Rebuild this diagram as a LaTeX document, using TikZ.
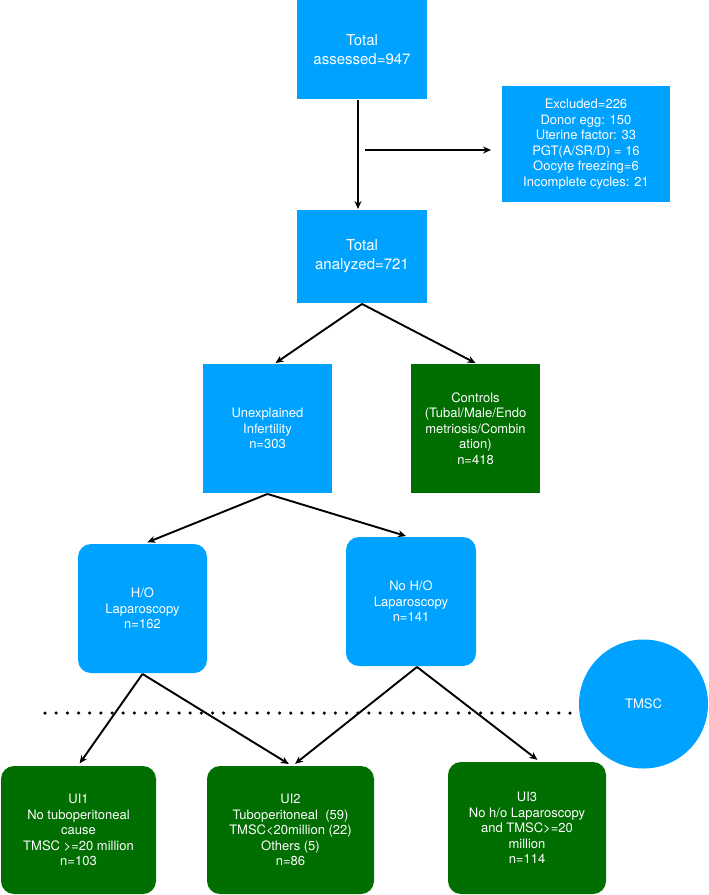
\documentclass[tikz,border=0pt]{standalone}
\usepackage{fontspec}
\setmainfont{TeX Gyre Heros}
\usepackage{xcolor}
\usepackage{tikz}
\usetikzlibrary{arrows.meta}
\definecolor{tmblue}{HTML}{00A2FF}
\definecolor{tmgreen}{HTML}{006E00}

\begin{document}
\begin{tikzpicture}[x=1pt,y=-1pt,>={Stealth[length=8pt,width=7pt]},line width=1.9pt,
bluebox/.style={rectangle,fill=tmblue,text=white,align=center,inner sep=0pt,font=\fontsize{13}{15.5}\selectfont},
greenbox/.style={bluebox,fill=tmgreen},
bigtext/.style={font=\fontsize{15}{19}\selectfont},
roundbox/.style={rounded corners=13pt}]
\useasboundingbox (0,0) rectangle (709,895);
\node[bluebox,bigtext,minimum width=130,minimum height=99](assessed) at (362,49.5){Total\\assessed=947};
\node[bluebox,minimum width=168,minimum height=116](excl) at (586,144){Excluded=226\\Donor egg: 150\\Uterine factor: 33\\PGT(A/SR/D) = 16\\Oocyte freezing=6\\Incomplete cycles: 21};
\node[bluebox,bigtext,minimum width=130,minimum height=93](analyzed) at (362,256.5){Total\\analyzed=721};
\node[bluebox,minimum width=129,minimum height=129](unexpl) at (267.5,428.5){Unexplained\\Infertility\\n=303};
\node[greenbox,minimum width=129,minimum height=129](controls) at (475.5,428.5){Controls\\(Tubal/Male/Endo\\metriosis/Combin\\ation)\\n=418};
\node[bluebox,roundbox,minimum width=129,minimum height=129](hol) at (142.5,608.5){H/O\\Laparoscopy\\n=162};
\node[bluebox,roundbox,minimum width=130,minimum height=129](nohol) at (411,601.5){No H/O\\Laparoscopy\\n=141};
\node[bluebox,circle,minimum size=129](tmsc) at (643.5,704){TMSC};
\node[greenbox,roundbox,minimum width=155,minimum height=128](ui1) at (78.5,830){UI1\\No tuboperitoneal\\cause\\TMSC >=20 million\\n=103};
\node[greenbox,roundbox,minimum width=167,minimum height=128](ui2) at (290.5,830){UI2\\Tuboperitoneal~~(59)\\TMSC<20million (22)\\Others (5)\\n=86};
\node[greenbox,roundbox,minimum width=158,minimum height=132](ui3) at (527,828){UI3\\No h/o Laparoscopy\\and TMSC>=20\\million\\n=114};
\coordinate (split) at (365,150);
\draw[->]([xshift=-4pt]assessed.south)--([xshift=-4pt]analyzed.north);
\draw[->,shorten >=10pt](split)--(split -| excl.west);
\draw[->](analyzed.south)--([xshift=8pt]unexpl.north);
\draw[->](analyzed.south)--(controls.north);
\draw[->,shorten >=2pt](unexpl.south)--([xshift=3pt]hol.north);
\draw[->](unexpl.south)--([xshift=-5pt]nohol.north);
\draw[->,shorten >=2pt](hol.south)--(ui1.north);
\draw[->,shorten >=2pt](hol.south)--(ui2.north);
\draw[->,shorten >=2pt]([xshift=6pt]nohol.south)--([xshift=3pt]ui2.north);
\draw[->,shorten >=2pt]([xshift=6pt]nohol.south)--([xshift=12pt]ui3.north);
\draw[line width=3.5pt,line cap=round,dash pattern=on 0pt off 11.17pt](45,713)--(570,713);
\end{tikzpicture}
\end{document}
